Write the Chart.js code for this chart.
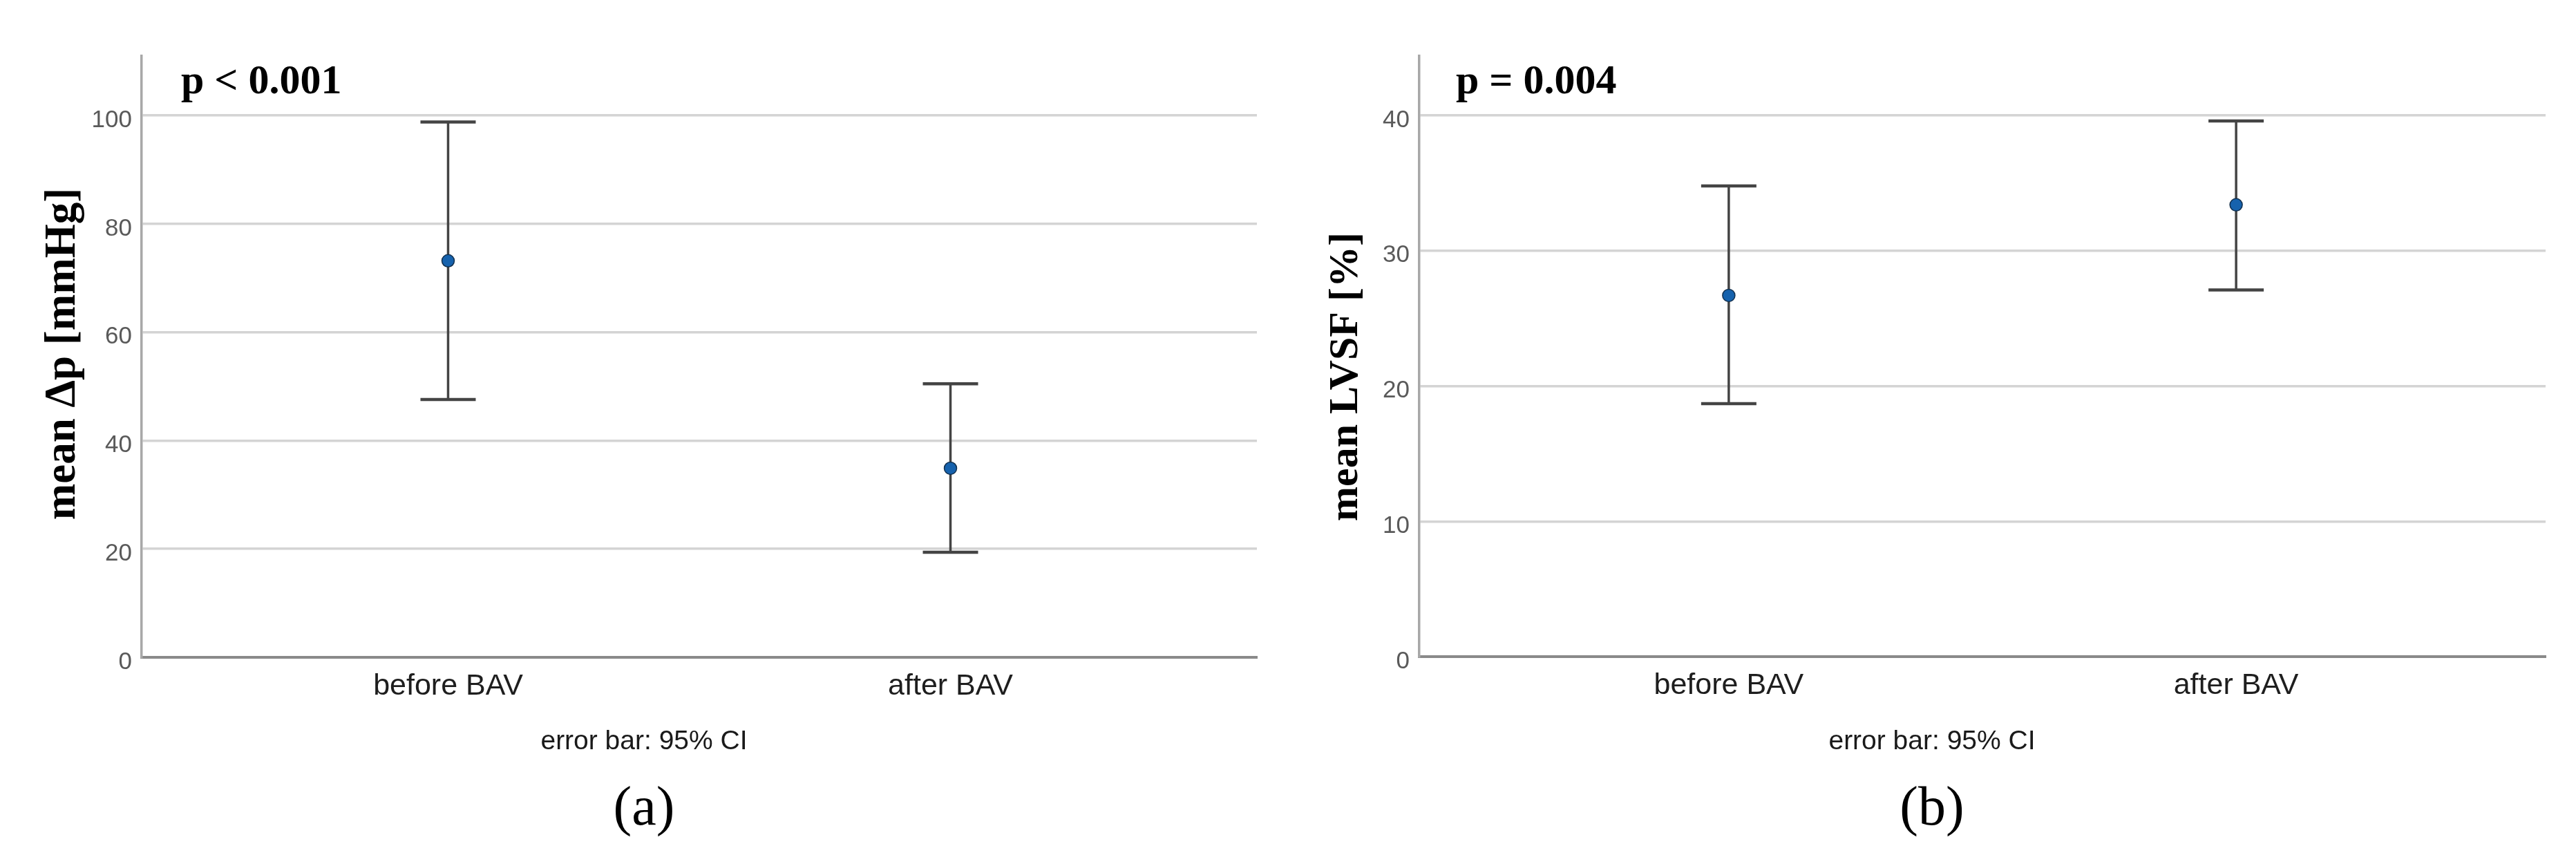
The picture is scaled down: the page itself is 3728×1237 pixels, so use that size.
<!DOCTYPE html>
<html>
<head>
<meta charset="utf-8">
<script src="https://cdn.jsdelivr.net/npm/chart.js@4.4.1/dist/chart.umd.min.js"></script>
<style>
  html, body { margin: 0; padding: 0; background: #fff; }
  #wrap { position: relative; width: 3728px; height: 1237px; }
  canvas { position: absolute; top: 0; }
</style>
</head>
<body>
<div id="wrap">
  <canvas id="chartA" width="1864" height="1237" style="left:0"></canvas>
  <canvas id="chartB" width="1864" height="1237" style="left:1864px"></canvas>
</div>
<script>
const categories = ["before BAV", "after BAV"];

// (a) mean pressure gradient with 95% CI
const gradientMean  = [73.2, 34.9];
const gradientLower = [47.6, 19.4];
const gradientUpper = [98.8, 50.5];
const gradientTicks = [0, 20, 40, 60, 80, 100];

// (b) mean LVSF with 95% CI
const lvsfMean  = [26.7, 33.4];
const lvsfLower = [18.7, 27.1];
const lvsfUpper = [34.8, 39.6];
const lvsfTicks = [0, 10, 20, 30, 40];

const SERIF = "'Liberation Serif', 'Times New Roman', serif";
const SANS = "'Liberation Sans', Arial, sans-serif";
const NARROW = "'Liberation Sans Narrow', 'Liberation Sans', Arial, sans-serif";

// whiskers + caps, positioned with the chart's own scales
const errorBars = {
  id: "errorBars",
  beforeDatasetsDraw(chart, args, opts) {
    const { ctx, scales: { x, y } } = chart;
    ctx.save();
    ctx.strokeStyle = "#444";
    opts.lower.forEach((lo, i) => {
      const px = x.getPixelForValue(i);
      const top = y.getPixelForValue(opts.upper[i]);
      const bot = y.getPixelForValue(lo);
      ctx.lineWidth = 3.5;
      ctx.beginPath();
      ctx.moveTo(px, top);
      ctx.lineTo(px, bot);
      ctx.stroke();
      ctx.lineWidth = 4.5;
      ctx.beginPath();
      ctx.moveTo(px - 40, top); ctx.lineTo(px + 40, top);
      ctx.moveTo(px - 40, bot); ctx.lineTo(px + 40, bot);
      ctx.stroke();
    });
    ctx.restore();
  }
};

// p value, y title, footnote and panel caption
const panelText = {
  id: "panelText",
  afterDraw(chart, args, o) {
    const { ctx, width } = chart;
    ctx.save();
    ctx.fillStyle = "#000";
    ctx.textBaseline = "alphabetic";
    ctx.font = "bold 60px " + SERIF;
    ctx.textAlign = "left";
    ctx.fillText(o.pText, o.pX, 135);

    ctx.save();
    ctx.font = "bold " + o.titleSize + "px " + SERIF;
    ctx.translate(o.titleX, o.titleY);
    ctx.rotate(-Math.PI / 2);
    ctx.textAlign = "center";
    ctx.fillText(o.yTitle, 0, 0);
    ctx.restore();

    ctx.textAlign = "center";
    ctx.fillStyle = "#1a1a1a";
    ctx.font = "39px " + SANS;
    ctx.fillText("error bar: 95% CI", width / 2, 1084);
    ctx.fillStyle = "#000";
    ctx.font = "80px " + SERIF;
    ctx.fillText(o.caption, width / 2, 1193);
    ctx.restore();
  }
};

function makeChart(id, cfg) {
  return new Chart(document.getElementById(id), {
    type: "scatter",
    data: {
      datasets: [{
        data: cfg.mean.map((m, i) => ({ x: i, y: m })),
        pointRadius: 9,
        pointHoverRadius: 9,
        pointBackgroundColor: "#1662ad",
        pointBorderColor: "#12304e",
        pointBorderWidth: 1.5,
        showLine: false
      }]
    },
    options: {
      responsive: false,
      animation: false,
      devicePixelRatio: 1,
      events: [],
      layout: { padding: { top: 81, left: 0, right: cfg.right, bottom: 0 } },
      plugins: {
        legend: { display: false },
        tooltip: { enabled: false },
        errorBars: { lower: cfg.lower, upper: cfg.upper },
        panelText: cfg.text
      },
      scales: {
        x: {
          type: "linear",
          min: -0.61,
          max: 1.61,
          afterBuildTicks: s => { s.ticks = categories.map((c, i) => ({ value: i })); },
          afterFit: s => { s.height = 1237 - cfg.bottom; },
          grid: { display: false, drawTicks: false },
          border: { display: true, color: "#8a8a8a", width: 4 },
          ticks: {
            callback: v => categories[v],
            font: { family: SANS, size: 43 },
            color: "#1e1e1e",
            padding: 16,
            autoSkip: false,
            maxRotation: 0
          }
        },
        y: {
          min: 0,
          max: cfg.max,
          afterBuildTicks: s => { s.ticks = cfg.ticks.map(v => ({ value: v })); },
          afterFit: s => { s.width = cfg.axisLeft; },
          grid: {
            color: c => (c.tick && c.tick.value === 0 ? "rgba(0,0,0,0)" : "#d4d4d4"),
            lineWidth: 3.5,
            drawTicks: false
          },
          border: { color: "#a8a8a8", width: 3.5 },
          ticks: {
            font: { family: NARROW, size: 35 },
            color: "#5a5a5a",
            padding: 14,
            labelOffset: 7
          }
        }
      }
    },
    plugins: [errorBars, panelText]
  });
}

makeChart("chartA", {
  mean: gradientMean, lower: gradientLower, upper: gradientUpper,
  ticks: gradientTicks, max: 111,
  axisLeft: 205, right: 45, bottom: 951,
  text: { pText: "p < 0.001", pX: 262, yTitle: "mean \u0394p [mmHg]", titleSize: 63, titleX: 108, titleY: 512, caption: "(a)" }
});

makeChart("chartB", {
  mean: lvsfMean, lower: lvsfLower, upper: lvsfUpper,
  ticks: lvsfTicks, max: 44.4,
  axisLeft: 190, right: 44, bottom: 950,
  text: { pText: "p = 0.004", pX: 243, yTitle: "mean LVSF [%]", titleSize: 60, titleX: 100, titleY: 545, caption: "(b)" }
});
</script>
</body>
</html>
